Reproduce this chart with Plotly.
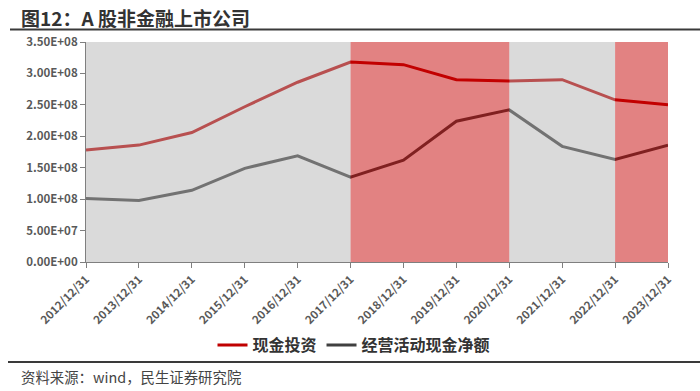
import plotly.graph_objects as go

categories = ["2012/12/31", "2013/12/31", "2014/12/31", "2015/12/31", "2016/12/31", "2017/12/31",
              "2018/12/31", "2019/12/31", "2020/12/31", "2021/12/31", "2022/12/31", "2023/12/31"]
cash_invest = [1.78e8, 1.86e8, 2.06e8, 2.47e8, 2.86e8, 3.18e8, 3.14e8, 2.90e8, 2.88e8, 2.90e8, 2.58e8, 2.50e8]
op_cash_net = [1.01e8, 0.98e8, 1.14e8, 1.49e8, 1.69e8, 1.35e8, 1.62e8, 2.24e8, 2.42e8, 1.84e8, 1.63e8, 1.86e8]
series_names = ["现金投资", "经营活动现金净额"]
y_ticks = [0, 5e7, 1e8, 1.5e8, 2e8, 2.5e8, 3e8, 3.5e8]
y_tick_labels = ["0.00E+00", "5.00E+07", "1.00E+08", "1.50E+08", "2.00E+08", "2.50E+08", "3.00E+08", "3.50E+08"]
red_bands = [("2017/12/31", "2020/12/31"), ("2022/12/31", "2023/12/31")]
gray_bands = [("2012/12/31", "2017/12/31"), ("2020/12/31", "2022/12/31")]

FONT = "Noto Sans CJK SC"
W, H = 700, 391
L, R, T, B = 86, 32, 42, 129
pw, ph = W - L - R, H - T - B

fig = go.Figure()
fig.add_trace(go.Scatter(x=categories, y=cash_invest, name=series_names[0], mode="lines",
                         line=dict(color="#C00000", width=3)))
fig.add_trace(go.Scatter(x=categories, y=op_cash_net, name=series_names[1], mode="lines",
                         line=dict(color="#404040", width=3)))

idx = {c: i for i, c in enumerate(categories)}
for a, b in gray_bands:
    fig.add_shape(type="rect", xref="x", yref="y", x0=idx[a], x1=idx[b], y0=0, y1=3.5e8,
                  fillcolor="rgba(174,174,174,0.46)", line=dict(width=0), layer="above")
for a, b in red_bands:
    fig.add_shape(type="rect", xref="x", yref="y", x0=idx[a], x1=idx[b], y0=0, y1=3.5e8,
                  fillcolor="rgba(196,0,0,0.49)", line=dict(width=0), layer="above")

def px(xp):
    return (xp - L) / pw

def py(yp):
    return (H - B - yp) / ph

# rules
fig.add_shape(type="line", xref="paper", yref="paper", x0=px(10), x1=px(700), y0=py(29.5), y1=py(29.5),
              line=dict(color="#3a3a3a", width=2))
fig.add_shape(type="line", xref="paper", yref="paper", x0=px(8), x1=px(700), y0=py(362), y1=py(362),
              line=dict(color="#3a3a3a", width=2))

fig.add_annotation(text="<b>图12：A 股非金融上市公司</b>", xref="paper", yref="paper",
                   x=px(19), y=py(17), xanchor="left", yanchor="middle", showarrow=False,
                   font=dict(family=FONT, size=19, color="#333333"))
fig.add_annotation(text="资料来源：wind，民生证券研究院", xref="paper", yref="paper",
                   x=px(19), y=py(376), xanchor="left", yanchor="middle", showarrow=False,
                   font=dict(family=FONT, size=14.4, color="#444444"))

fig.update_layout(
    width=W, height=H,
    margin=dict(l=L, r=R, t=T, b=B, pad=0, autoexpand=False),
    paper_bgcolor="white", plot_bgcolor="white",
    font=dict(family=FONT, color="#595959"),
    showlegend=True,
    legend=dict(orientation="h", x=px(354), y=py(345), xanchor="center", yanchor="middle",
                font=dict(family=FONT, size=16, color="#333333", weight="bold"),
                itemwidth=30, tracegroupgap=0, bgcolor="rgba(0,0,0,0)"),
    xaxis=dict(type="category", categoryorder="array", categoryarray=categories,
               range=[0, len(categories) - 1], tickangle=-45, automargin=False,
               showline=True, linecolor="#7f7f7f", linewidth=1,
               ticks="outside", ticklen=5, tickcolor="#7f7f7f", showgrid=False,
               tickfont=dict(family=FONT, size=11.5, color="#595959", weight="bold")),
    yaxis=dict(range=[0, 3.5e8], tickvals=y_ticks, ticktext=y_tick_labels, automargin=False,
               showline=True, linecolor="#7f7f7f", linewidth=1,
               ticks="outside", ticklen=5, tickcolor="#7f7f7f", showgrid=False, zeroline=False,
               tickfont=dict(family=FONT, size=11.5, color="#595959", weight="bold")),
)

fig.write_html("out.html", config={"displayModeBar": False},
               post_script="document.body.style.margin='0';document.body.style.overflow='hidden';")
